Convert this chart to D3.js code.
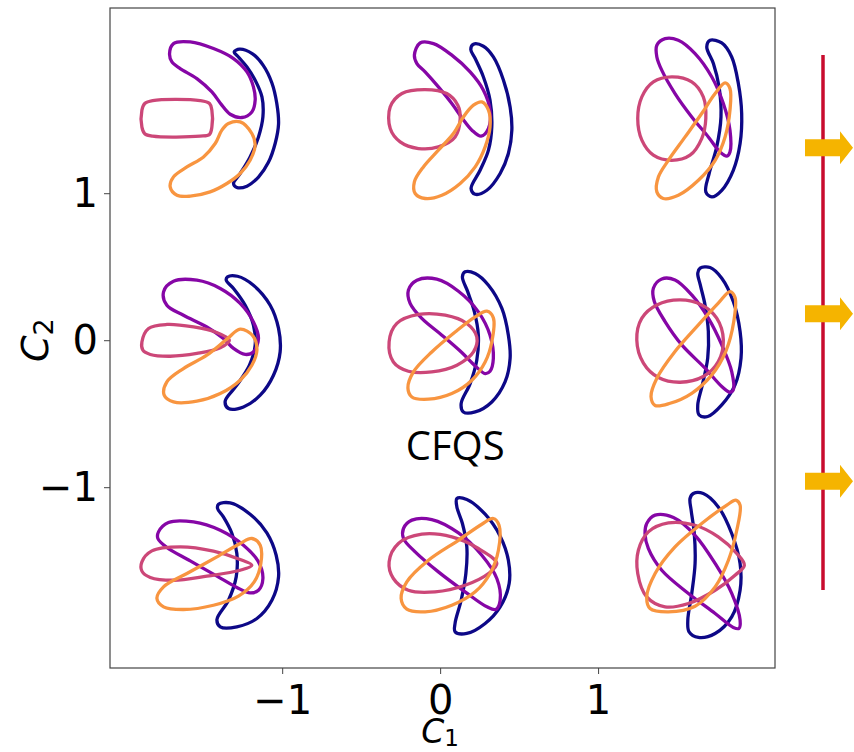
<!DOCTYPE html>
<html>
<head>
<meta charset="utf-8">
<script src="https://cdn.jsdelivr.net/npm/d3@7"></script>
<style>
  body { margin: 0; background: #fff; }
</style>
</head>
<body>
<div id="chart"></div>
<script>
// axis ticks
const xTicks = [-1, 0, 1];
const yTicks = [-1, 0, 1];
const seriesColors = ["#0d0887", "#8606a6", "#cc4778", "#f89540"];

// cross sections, one closed outline per cell: TL, TM, TR, ML, MM, MR, BL, BM, BR  (C1, C2)
const blueCurves = [
  [[-1.27,1.98],[-1.19,1.95],[-1.12,1.87],[-1.065,1.75],[-1.034,1.61],[-1.023,1.47],[-1.044,1.34],[-1.087,1.21],[-1.15,1.11],[-1.223,1.048],[-1.287,1.039],[-1.308,1.066],[-1.266,1.134],[-1.203,1.247],[-1.15,1.383],[-1.122,1.519],[-1.128,1.655],[-1.171,1.769],[-1.223,1.859],[-1.277,1.927],[-1.304,1.961]],
  [[0.211,2.014],[0.274,2.0],[0.337,1.927],[0.401,1.769],[0.443,1.587],[0.454,1.429],[0.432,1.27],[0.38,1.134],[0.296,1.02],[0.222,0.993],[0.196,1.032],[0.253,1.156],[0.306,1.293],[0.327,1.451],[0.316,1.633],[0.274,1.791],[0.222,1.916],[0.194,1.978]],
  [[1.709,2.041],[1.783,2.022],[1.846,1.927],[1.888,1.746],[1.909,1.542],[1.899,1.338],[1.856,1.156],[1.783,1.02],[1.72,0.975],[1.682,1.009],[1.703,1.134],[1.751,1.315],[1.778,1.519],[1.766,1.723],[1.73,1.882],[1.688,1.995]],
  [[-1.346,0.431],[-1.283,0.435],[-1.182,0.374],[-1.076,0.238],[-1.023,0.08],[-1.013,-0.08],[-1.055,-0.238],[-1.139,-0.374],[-1.245,-0.454],[-1.34,-0.465],[-1.361,-0.415],[-1.287,-0.306],[-1.207,-0.17],[-1.171,-0.034],[-1.182,0.102],[-1.234,0.238],[-1.308,0.352],[-1.354,0.408]],
  [[0.158,0.465],[0.222,0.454],[0.306,0.374],[0.391,0.216],[0.432,0.034],[0.443,-0.124],[0.411,-0.284],[0.327,-0.42],[0.222,-0.488],[0.147,-0.488],[0.133,-0.431],[0.19,-0.295],[0.232,-0.136],[0.242,0.034],[0.217,0.193],[0.175,0.329],[0.141,0.431]],
  [[1.646,0.49],[1.709,0.495],[1.783,0.422],[1.856,0.263],[1.899,0.059],[1.905,-0.122],[1.867,-0.304],[1.783,-0.44],[1.694,-0.519],[1.639,-0.508],[1.631,-0.44],[1.66,-0.304],[1.694,-0.122],[1.698,0.059],[1.677,0.24],[1.647,0.376],[1.631,0.456]],
  [[-1.403,-1.116],[-1.329,-1.107],[-1.203,-1.184],[-1.097,-1.311],[-1.038,-1.463],[-1.023,-1.61],[-1.065,-1.769],[-1.16,-1.893],[-1.287,-1.95],[-1.392,-1.95],[-1.413,-1.9],[-1.34,-1.769],[-1.291,-1.61],[-1.287,-1.451],[-1.318,-1.315],[-1.372,-1.202],[-1.409,-1.145]],
  [[0.106,-1.077],[0.169,-1.084],[0.285,-1.184],[0.38,-1.333],[0.432,-1.497],[0.437,-1.655],[0.38,-1.814],[0.285,-1.927],[0.169,-1.995],[0.095,-1.984],[0.095,-1.923],[0.133,-1.769],[0.163,-1.587],[0.169,-1.406],[0.141,-1.247],[0.106,-1.134]],
  [[1.603,-1.043],[1.666,-1.043],[1.761,-1.134],[1.846,-1.315],[1.899,-1.519],[1.899,-1.701],[1.846,-1.882],[1.741,-1.995],[1.635,-2.022],[1.576,-1.984],[1.568,-1.905],[1.593,-1.723],[1.614,-1.519],[1.609,-1.315],[1.589,-1.156],[1.582,-1.077]]
];

const purpleCurves = [
  [[-1.713,1.95],[-1.688,2.018],[-1.582,2.029],[-1.435,1.984],[-1.308,1.916],[-1.223,1.825],[-1.182,1.723],[-1.171,1.633],[-1.192,1.553],[-1.255,1.515],[-1.329,1.537],[-1.382,1.599],[-1.445,1.689],[-1.54,1.78],[-1.646,1.848],[-1.698,1.893]],
  [[-0.163,1.939],[-0.127,2.022],[-0.042,2.018],[0.074,1.939],[0.19,1.825],[0.274,1.701],[0.316,1.565],[0.306,1.44],[0.259,1.388],[0.201,1.429],[0.141,1.508],[0.074,1.61],[-0.011,1.723],[-0.095,1.825],[-0.147,1.882]],
  [[1.372,2.007],[1.424,2.052],[1.508,2.041],[1.614,1.95],[1.72,1.791],[1.793,1.61],[1.835,1.429],[1.835,1.281],[1.815,1.252],[1.772,1.281],[1.698,1.383],[1.593,1.519],[1.487,1.678],[1.403,1.837],[1.372,1.927]],
  [[-1.751,0.329],[-1.688,0.401],[-1.54,0.408],[-1.392,0.352],[-1.266,0.25],[-1.182,0.124],[-1.15,0.012],[-1.182,-0.08],[-1.234,-0.097],[-1.308,-0.056],[-1.372,0.012],[-1.477,0.09],[-1.625,0.17],[-1.73,0.238]],
  [[-0.201,0.34],[-0.147,0.408],[-0.021,0.415],[0.116,0.333],[0.242,0.193],[0.316,0.034],[0.337,-0.124],[0.316,-0.211],[0.285,-0.227],[0.222,-0.175],[0.137,-0.084],[0.011,0.034],[-0.116,0.148],[-0.19,0.25]],
  [[1.35,0.354],[1.403,0.417],[1.487,0.41],[1.593,0.308],[1.698,0.15],[1.783,-0.032],[1.846,-0.213],[1.856,-0.338],[1.835,-0.354],[1.783,-0.315],[1.677,-0.19],[1.53,-0.032],[1.424,0.127],[1.356,0.263]],
  [[-1.783,-1.304],[-1.72,-1.24],[-1.561,-1.236],[-1.392,-1.293],[-1.245,-1.395],[-1.15,-1.508],[-1.122,-1.621],[-1.15,-1.701],[-1.203,-1.719],[-1.287,-1.682],[-1.413,-1.605],[-1.582,-1.501],[-1.73,-1.41],[-1.787,-1.349]],
  [[-0.232,-1.281],[-0.179,-1.224],[-0.053,-1.22],[0.116,-1.311],[0.264,-1.463],[0.359,-1.621],[0.38,-1.769],[0.353,-1.832],[0.296,-1.814],[0.158,-1.712],[-0.011,-1.576],[-0.158,-1.44],[-0.232,-1.349]],
  [[1.308,-1.247],[1.361,-1.19],[1.477,-1.206],[1.614,-1.327],[1.741,-1.519],[1.846,-1.723],[1.899,-1.905],[1.892,-1.961],[1.856,-1.954],[1.741,-1.859],[1.572,-1.723],[1.403,-1.565],[1.318,-1.417],[1.297,-1.315]]
];

const pinkCurves = [
  [[-1.82,1.63],[-1.52,1.63],[-1.46,1.61],[-1.445,1.565],[-1.445,1.45],[-1.46,1.40],[-1.52,1.388],[-1.82,1.388],[-1.87,1.405],[-1.888,1.45],[-1.888,1.565],[-1.87,1.61]],
  [[-0.316,1.587],[-0.242,1.678],[-0.095,1.705],[0.042,1.678],[0.112,1.599],[0.127,1.508],[0.095,1.383],[-0.011,1.315],[-0.137,1.304],[-0.253,1.349],[-0.316,1.44]],
  [[1.466,1.791],[1.593,1.757],[1.666,1.655],[1.682,1.508],[1.656,1.372],[1.582,1.259],[1.466,1.224],[1.35,1.259],[1.277,1.361],[1.251,1.508],[1.277,1.655],[1.35,1.757]],
  [[-1.888,-0.012],[-1.846,0.08],[-1.73,0.107],[-1.561,0.09],[-1.424,0.056],[-1.334,0],[-1.392,-0.052],[-1.54,-0.09],[-1.709,-0.109],[-1.835,-0.097],[-1.882,-0.068]],
  [[-0.323,-0.012],[-0.274,0.114],[-0.137,0.175],[0.032,0.17],[0.169,0.114],[0.232,0.022],[0.211,-0.08],[0.106,-0.17],[-0.053,-0.216],[-0.201,-0.211],[-0.296,-0.148]],
  [[1.519,0.274],[1.656,0.24],[1.751,0.15],[1.793,0.002],[1.761,-0.145],[1.666,-0.247],[1.519,-0.286],[1.382,-0.254],[1.287,-0.156],[1.245,0.002],[1.277,0.15],[1.372,0.24]],
  [[-1.888,-1.508],[-1.825,-1.433],[-1.646,-1.406],[-1.435,-1.435],[-1.266,-1.492],[-1.192,-1.531],[-1.266,-1.565],[-1.477,-1.605],[-1.688,-1.633],[-1.835,-1.614],[-1.888,-1.571]],
  [[-0.323,-1.508],[-0.264,-1.383],[-0.116,-1.32],[0.074,-1.338],[0.242,-1.417],[0.359,-1.519],[0.306,-1.587],[0.158,-1.667],[-0.032,-1.712],[-0.201,-1.701],[-0.296,-1.621]],
  [[1.445,-1.243],[1.614,-1.259],[1.761,-1.338],[1.878,-1.451],[1.926,-1.531],[1.867,-1.599],[1.741,-1.701],[1.572,-1.791],[1.424,-1.814],[1.308,-1.746],[1.251,-1.587],[1.255,-1.429],[1.318,-1.304]]
];

const orangeCurves = [
  [[-1.266,1.485],[-1.192,1.406],[-1.171,1.327],[-1.203,1.224],[-1.266,1.134],[-1.35,1.066],[-1.456,1.009],[-1.582,0.98],[-1.666,0.986],[-1.709,1.043],[-1.688,1.111],[-1.603,1.179],[-1.498,1.247],[-1.424,1.338],[-1.382,1.429],[-1.34,1.474]],
  [[0.264,1.621],[0.306,1.565],[0.316,1.451],[0.285,1.315],[0.222,1.179],[0.127,1.066],[0.011,0.986],[-0.095,0.964],[-0.158,0.998],[-0.163,1.077],[-0.106,1.179],[-0.011,1.293],[0.084,1.406],[0.147,1.519],[0.211,1.599]],
  [[1.804,1.75],[1.835,1.712],[1.835,1.565],[1.804,1.383],[1.741,1.224],[1.635,1.088],[1.508,0.986],[1.413,0.964],[1.372,1.009],[1.382,1.111],[1.445,1.224],[1.551,1.383],[1.656,1.542],[1.741,1.678]],
  [[-1.266,0.075],[-1.185,0.029],[-1.16,-0.068],[-1.192,-0.17],[-1.266,-0.272],[-1.392,-0.363],[-1.54,-0.415],[-1.688,-0.42],[-1.747,-0.374],[-1.73,-0.284],[-1.625,-0.193],[-1.477,-0.102],[-1.35,0.007]],
  [[0.296,0.197],[0.337,0.152],[0.327,-0.012],[0.285,-0.148],[0.201,-0.272],[0.074,-0.363],[-0.074,-0.401],[-0.179,-0.386],[-0.204,-0.324],[-0.169,-0.216],[-0.053,-0.08],[0.095,0.056],[0.222,0.159]],
  [[1.835,0.331],[1.867,0.29],[1.859,0.127],[1.808,-0.077],[1.72,-0.236],[1.593,-0.361],[1.456,-0.429],[1.361,-0.444],[1.335,-0.383],[1.372,-0.259],[1.487,-0.077],[1.635,0.104],[1.761,0.252]],
  [[-1.192,-1.349],[-1.139,-1.395],[-1.135,-1.519],[-1.177,-1.644],[-1.277,-1.741],[-1.435,-1.803],[-1.625,-1.832],[-1.751,-1.814],[-1.793,-1.757],[-1.751,-1.678],[-1.603,-1.587],[-1.413,-1.474],[-1.266,-1.383]],
  [[0.337,-1.213],[0.373,-1.259],[0.369,-1.429],[0.316,-1.587],[0.222,-1.712],[0.074,-1.803],[-0.095,-1.848],[-0.211,-1.83],[-0.247,-1.757],[-0.211,-1.644],[-0.074,-1.497],[0.116,-1.361],[0.264,-1.252]],
  [[1.872,-1.088],[1.899,-1.122],[1.878,-1.293],[1.825,-1.497],[1.741,-1.678],[1.614,-1.81],[1.445,-1.848],[1.329,-1.825],[1.308,-1.746],[1.361,-1.587],[1.487,-1.406],[1.656,-1.247],[1.815,-1.122]]
];

// annotation on the right: arrow heights (in C2) and the red bar extent
const arrowRows = [1.31, 0.18, -0.96];
const barExtent = [1.94, -1.70];
const boxLabel = { text: "CFQS", c1: 0.095, c2: -0.816 };

const W = 854, H = 752;
const margin = { top: 8, right: 79, bottom: 84, left: 110 };
const width = W - margin.left - margin.right,
      height = H - margin.top - margin.bottom;

const svg = d3.select("#chart").append("svg")
  .attr("width", W).attr("height", H)
  .style("font-family", "DejaVu Sans, sans-serif");

const x = d3.scaleLinear().domain([-2.09, 2.12]).range([margin.left, margin.left + width]);
const y = d3.scaleLinear().domain([-2.23, 2.26]).range([margin.top + height, margin.top]);

// X axis
const gx = svg.append("g")
  .attr("transform", `translate(0,${margin.top + height})`)
  .call(d3.axisBottom(x).tickValues(xTicks).tickFormat(d3.format("d")).tickSize(6).tickPadding(12));
// Y axis
const gy = svg.append("g")
  .attr("transform", `translate(${margin.left},0)`)
  .call(d3.axisLeft(y).tickValues(yTicks).tickFormat(d3.format("d")).tickSize(6).tickPadding(6));

[gx, gy].forEach(g => {
  g.select(".domain").remove();
  g.selectAll(".tick line").attr("stroke", "#444");
  g.selectAll(".tick text").attr("font-size", 40).attr("font-family", "DejaVu Sans").attr("fill", "#000");
});

svg.append("rect")
  .attr("x", margin.left).attr("y", margin.top)
  .attr("width", width).attr("height", height)
  .attr("fill", "none").attr("stroke", "#444").attr("stroke-width", 1.2);

const line = d3.line()
  .x(d => x(d[0])).y(d => y(d[1]))
  .curve(d3.curveCatmullRomClosed.alpha(0.5));

[blueCurves, purpleCurves, pinkCurves, orangeCurves].forEach((curves, i) => {
  svg.append("g").selectAll("path")
    .data(curves)
    .enter()
    .append("path")
    .attr("d", line)
    .attr("fill", "none")
    .attr("stroke", seriesColors[i])
    .attr("stroke-width", 3.3)
    .attr("stroke-linejoin", "round");
});

svg.append("text")
  .attr("x", x(boxLabel.c1)).attr("y", y(boxLabel.c2))
  .attr("text-anchor", "middle")
  .attr("font-family", "Open Sans")
  .attr("font-size", 40)
  .text(boxLabel.text);

// axis labels
const xl = svg.append("text")
  .attr("x", x(0)).attr("y", 743)
  .attr("text-anchor", "middle").attr("font-size", 33);
xl.append("tspan").attr("font-style", "italic").text("C");
xl.append("tspan").attr("font-size", 23).attr("dy", 3).text("1");

const yl = svg.append("text")
  .attr("transform", `translate(48,${y(0)}) rotate(-90)`)
  .attr("text-anchor", "middle").attr("font-size", 38);
yl.append("tspan").attr("font-style", "italic").text("C");
yl.append("tspan").attr("font-size", 27).attr("dy", 5).text("2");

// red bar with arrows
svg.append("line")
  .attr("x1", 823).attr("x2", 823)
  .attr("y1", y(barExtent[0])).attr("y2", y(barExtent[1]))
  .attr("stroke", "#c80c2e").attr("stroke-width", 3.5);

svg.selectAll(".arrow")
  .data(arrowRows)
  .enter()
  .append("path")
  .attr("class", "arrow")
  .attr("d", d => {
    const cy = y(d);
    return `M805,${cy - 8.5} L840,${cy - 8.5} L840,${cy - 16.5} L853,${cy} L840,${cy + 16.5} L840,${cy + 8.5} L805,${cy + 8.5} Z`;
  })
  .attr("fill", "#f5b400");
</script>
</body>
</html>
